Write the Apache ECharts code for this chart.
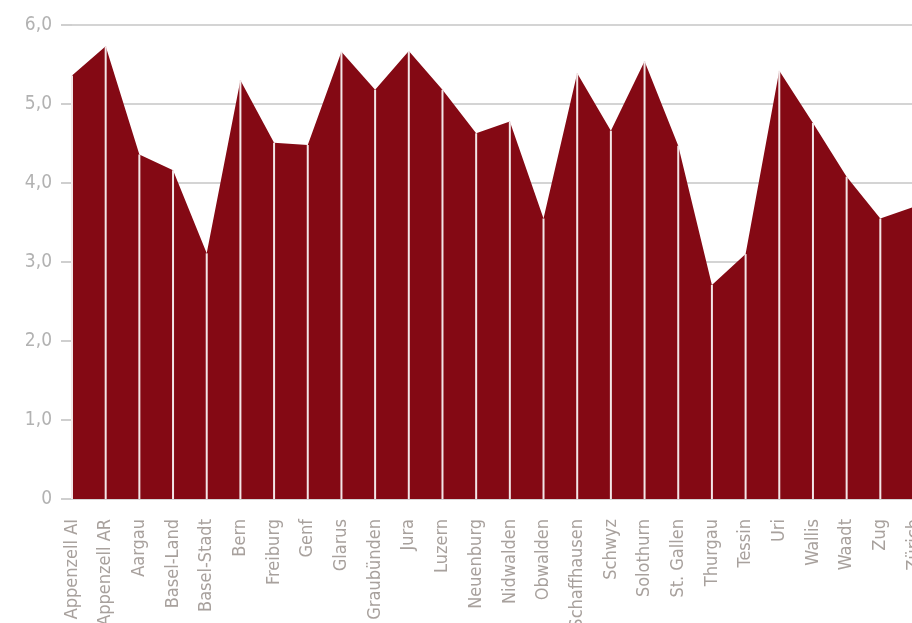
<!DOCTYPE html>
<html lang="de">
<head>
  <meta charset="UTF-8">
  <title>Kantone</title>
  <style>
  html, body {
    margin: 0;
    padding: 0;
    width: 100%;
    height: 100%;
    background: #fff;
  }
  .main {
    width: 912px;
    height: 623px;
  }
  </style>
</head>
<body>
<div class="main" id="main"></div>
<script src="https://cdn.jsdelivr.net/npm/echarts@6/dist/echarts.min.js"></script>
<script>
var kantone = ['Appenzell AI', 'Appenzell AR', 'Aargau', 'Basel-Land', 'Basel-Stadt', 'Bern',
  'Freiburg', 'Genf', 'Glarus', 'Graubünden', 'Jura', 'Luzern', 'Neuenburg', 'Nidwalden',
  'Obwalden', 'Schaffhausen', 'Schwyz', 'Solothurn', 'St. Gallen', 'Thurgau', 'Tessin',
  'Uri', 'Wallis', 'Waadt', 'Zug', 'Zürich'];

var werte = [5.36, 5.73, 4.36, 4.16, 3.11, 5.30, 4.51, 4.48, 5.66, 5.18, 5.67, 5.18, 4.63,
  4.78, 3.55, 5.39, 4.66, 5.54, 4.47, 2.71, 3.10, 5.42, 4.76, 4.08, 3.55, 3.70];

var yTicks = [0, 1, 2, 3, 4, 5, 6];

var font = "'DejaVu Sans Condensed', 'Liberation Sans Narrow', sans-serif";
var chart = echarts.init(document.getElementById('main'));

chart.setOption({
  animation: false,
  grid: {
    left: 72, right: -2, top: 25, bottom: 124,
    containLabel: false,
    outerBoundsMode: 'none'
  },
  xAxis: {
    type: 'category',
    data: kantone,
    boundaryGap: false,
    axisLine: { show: false },
    axisTick: { show: false },
    axisLabel: {
      interval: 0,
      rotate: 90,
      margin: 20,
      color: '#a8a19d',
      fontSize: 18,
      fontFamily: font
    }
  },
  yAxis: {
    type: 'value',
    min: yTicks[0],
    max: yTicks[yTicks.length - 1],
    interval: 1,
    axisLine: { show: false },
    axisTick: { show: true, length: 11, lineStyle: { color: '#cfcfcf', width: 2 } },
    splitLine: { lineStyle: { color: '#d4d4d4', width: 2 } },
    axisLabel: {
      margin: 20,
      color: '#b2b2b2',
      fontSize: 19,
      fontFamily: font,
      formatter: function (v) {
        return v === 0 ? '0' : v.toFixed(1).replace('.', ',');
      }
    }
  },
  series: [
    {
      type: 'line',
      data: werte,
      showSymbol: false,
      lineStyle: { width: 0 },
      areaStyle: { color: '#840914', opacity: 1 },
      z: 2
    },
    {
      type: 'bar',
      data: werte,
      barWidth: 2,
      itemStyle: { color: '#f3e6e7' },
      z: 3
    }
  ]
});
</script>
</body>
</html>
